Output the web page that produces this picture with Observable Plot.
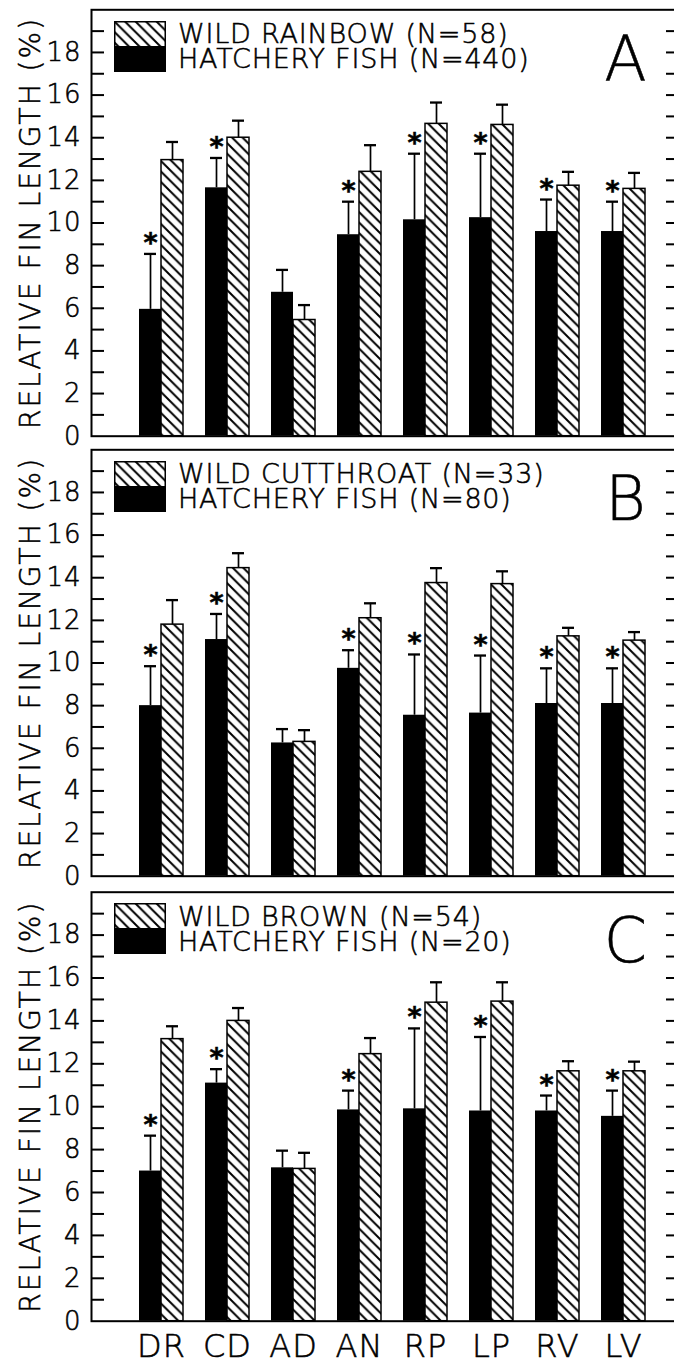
<!DOCTYPE html>
<html>
<head>
<meta charset="utf-8">
<script src="https://cdn.jsdelivr.net/npm/d3@7"></script>
<script src="https://cdn.jsdelivr.net/npm/@observablehq/plot@0.6"></script>
<style>
  html, body { margin: 0; padding: 0; background: #fff; overflow: hidden; width: 674px; height: 1365px; }
  #chart { position: relative; width: 674px; height: 1365px; }
  .panel { position: absolute; left: 0; width: 680px; }
  .panel svg { max-width: none !important; display: block; }
  .panel svg text { stroke: #000; stroke-width: 0.55px; }
  .swatch { position: absolute; left: 114px; }
  .ltext { position: absolute; left: 178px; height: 25px; font-family: 'DejaVu Sans', sans-serif; font-weight: 200;
           font-size: 27px; line-height: 25px; letter-spacing: 0.8px; white-space: nowrap; color: #000;
           -webkit-text-stroke: 0.55px #000; }
</style>
</head>
<body>
<div id="chart"></div>
<script>
// ---------- data ----------
const categories = ["DR", "CD", "AD", "AN", "RP", "LP", "RV", "LV"];
const panelLetters = ["A", "B", "C"];
const wildLabels = ["WILD RAINBOW (N=58)", "WILD CUTTHROAT (N=33)", "WILD BROWN (N=54)"];
const hatcheryLabels = ["HATCHERY FISH (N=440)", "HATCHERY FISH (N=80)", "HATCHERY FISH (N=20)"];
const yTitle = "RELATIVE FIN LENGTH (%)";
const yTickLabels = [0, 2, 4, 6, 8, 10, 12, 14, 16, 18];
const yMinorTicks = [1, 2, 3, 4, 5, 6, 7, 8, 9, 10, 11, 12, 13, 14, 15, 16, 17, 18, 19];
const significant = [true, true, false, true, true, true, true, true];

// Panel A: wild rainbow vs hatchery
const hatcheryMeanA = [5.95, 11.65, 6.75, 9.45, 10.15, 10.25, 9.6, 9.6];
const hatcherySdA   = [2.6, 1.4, 1.05, 1.55, 3.1, 3.0, 1.5, 1.4];
const wildMeanA     = [12.95, 14.0, 5.45, 12.4, 14.65, 14.6, 11.75, 11.6];
const wildSdA       = [0.85, 0.8, 0.7, 1.25, 1.0, 0.95, 0.65, 0.75];
// Panel B: wild cutthroat vs hatchery
const hatcheryMeanB = [8.0, 11.1, 6.25, 9.75, 7.55, 7.65, 8.1, 8.1];
const hatcherySdB   = [1.85, 1.2, 0.65, 0.85, 2.85, 2.7, 1.65, 1.65];
const wildMeanB     = [11.8, 14.45, 6.3, 12.1, 13.75, 13.7, 11.25, 11.05];
const wildSdB       = [1.15, 0.7, 0.55, 0.7, 0.7, 0.6, 0.4, 0.4];
// Panel C: wild brown vs hatchery
const hatcheryMeanC = [7.0, 11.1, 7.15, 9.85, 9.9, 9.8, 9.8, 9.55];
const hatcherySdC   = [1.65, 0.65, 0.8, 0.9, 3.75, 3.45, 0.72, 1.2];
const wildMeanC     = [13.15, 14.0, 7.1, 12.45, 14.85, 14.9, 11.65, 11.65];
const wildSdC       = [0.6, 0.6, 0.75, 0.75, 0.95, 0.9, 0.47, 0.45];

const series = [
  [hatcheryMeanA, hatcherySdA, wildMeanA, wildSdA],
  [hatcheryMeanB, hatcherySdB, wildMeanB, wildSdB],
  [hatcheryMeanC, hatcherySdC, wildMeanC, wildSdC]
];

// ---------- layout ----------
const FONT = "'DejaVu Sans', sans-serif";
const layout = [
  {top: 0,   height: 460, marginTop: 9.3,  marginBottom: 24.3, xAxis: false},
  {top: 440, height: 460, marginTop: 9.3,  marginBottom: 24.3, xAxis: false},
  {top: 880, height: 485, marginTop: 11.7, marginBottom: 44.3, xAxis: true}
];

function hatchPattern(id) {
  return `<pattern id="${id}" patternUnits="userSpaceOnUse" width="10.5" height="10.5">
    <rect width="10.5" height="10.5" fill="#fff"/>
    <path d="M-1,-1L11.5,11.5M-6.25,4.25L6.25,16.75M4.25,-6.25L16.75,6.25" stroke="#000" stroke-width="2"/>
  </pattern>`;
}

const chart = document.getElementById("chart");

series.forEach(([hM, hS, wM, wS], k) => {
  const L = layout[k];
  const rows = categories.map((fin, j) => ({
    fin, h: hM[j], hs: hS[j], w: wM[j], ws: wS[j], sig: significant[j]
  }));

  const marks = [
    Plot.barY(rows, {x: "fin", y: "h", fill: "#000", insetRight: 22}),
    Plot.barY(rows, {x: "fin", y: "w", fill: `url(#hatch${k})`, stroke: "#000", strokeWidth: 1.5, insetLeft: 22}),
    Plot.ruleX(rows, {x: "fin", y1: "h", y2: d => d.h + d.hs, dx: -11, strokeWidth: 1.7}),
    Plot.ruleX(rows, {x: "fin", y1: "w", y2: d => d.w + d.ws, dx: 11, strokeWidth: 1.7}),
    Plot.tickY(rows, {x: "fin", y: d => d.h + d.hs, insetLeft: 5, insetRight: 27, strokeWidth: 2.3}),
    Plot.tickY(rows, {x: "fin", y: d => d.w + d.ws, insetLeft: 27, insetRight: 5, strokeWidth: 2.3}),
    Plot.text(rows.filter(d => d.sig), {x: "fin", y: d => d.h + d.hs, text: () => "*", dx: -11, dy: -2,
      lineAnchor: "bottom", fontSize: 27, fontWeight: "bold"}),
    Plot.axisY(yMinorTicks, {anchor: "left", tickSize: 13, dx: 13, tickFormat: () => "", strokeWidth: 2}),
    Plot.axisY(yMinorTicks, {anchor: "right", tickSize: 12, dx: -12, tickFormat: () => "", strokeWidth: 2}),
    Plot.axisY(yTickLabels, {anchor: "left", tickSize: 0, tickPadding: 10, fontSize: 26}),
    Plot.text([panelLetters[k]], {frameAnchor: "top-left", dx: 534, dy: 70, textAnchor: "middle",
      lineAnchor: "bottom", fontSize: 62, text: d => d}),
    Plot.text([yTitle], {frameAnchor: "left", rotate: -90, dx: -60, textAnchor: "middle",
      lineAnchor: "middle", fontSize: 28, text: d => d}),
    Plot.frame({strokeWidth: 2})
  ];
  if (L.xAxis) marks.push(Plot.axisX({tickSize: 0, tickPadding: 13, fontSize: 32}));

  const svg = Plot.plot({
    width: 680,
    height: L.height,
    marginLeft: 91,
    marginRight: 3,
    marginTop: L.marginTop,
    marginBottom: L.marginBottom,
    style: {fontFamily: FONT, fontWeight: 200, color: "#000", background: "transparent"},
    x: {domain: categories, paddingInner: 0.337, paddingOuter: 0.586, align: 0.592, label: null,
        axis: L.xAxis ? undefined : null},
    y: {domain: [0, 20], label: null},
    marks
  });
  const s = d3.select(svg);
  s.insert("defs", ":first-child").html(hatchPattern(`hatch${k}`));
  s.selectAll("text").filter(function () { return this.textContent === yTitle; })
    .style("letter-spacing", "2px");
  s.selectAll("text").filter(function () { return /^\d+$/.test(this.textContent); })
    .style("letter-spacing", "1px");
  s.selectAll("text").filter(function () { return categories.includes(this.textContent); })
    .style("letter-spacing", "1px");

  const div = document.createElement("div");
  div.className = "panel";
  div.style.top = L.top + "px";
  div.style.height = L.height + "px";
  div.appendChild(svg);

  // legend (inside the frame, top-left)
  const sw = document.createElement("div");
  sw.className = "swatch";
  sw.style.top = (L.marginTop + 11.4) + "px";
  sw.innerHTML = `<svg width="52" height="51" style="display:block">
      <defs>${hatchPattern("lh" + k)}</defs>
      <rect x="0" y="0" width="52" height="25" fill="url(#lh${k})"/>
      <rect x="0" y="25" width="52" height="26" fill="#000"/>
      <rect x="0.75" y="0.75" width="50.5" height="49.5" fill="none" stroke="#000" stroke-width="1.5"/>
    </svg>`;
  div.appendChild(sw);

  [wildLabels[k], hatcheryLabels[k]].forEach((t, i) => {
    const lt = document.createElement("div");
    lt.className = "ltext";
    lt.style.top = (L.marginTop + 11.8 + 25 * i) + "px";
    lt.textContent = t;
    div.appendChild(lt);
  });

  chart.appendChild(div);
});
</script>
</body>
</html>
